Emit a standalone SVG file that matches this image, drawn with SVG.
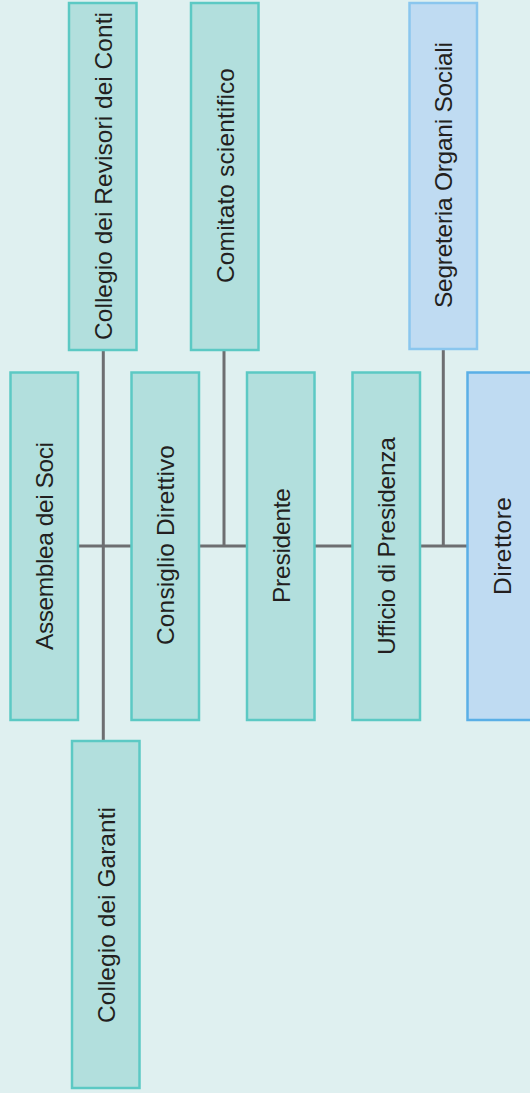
<svg xmlns="http://www.w3.org/2000/svg" width="530" height="1093" viewBox="0 0 530 1093">
<style>
.bg{fill:#dff0f0}
.t{fill:#b2dfdd;stroke:#5cc9c4;stroke-width:2.5}
.b{fill:#bfdbf2;stroke:#8ac6ee;stroke-width:2.5}
.d{fill:#bfdbf2;stroke:#5aafe6;stroke-width:2.5}
.c{stroke:#6d6e71;stroke-width:3;fill:none}
text{font-family:"Liberation Sans",Arial,sans-serif;font-size:24.5px;fill:#231f20;text-anchor:middle;dominant-baseline:central}
</style>
<rect class="bg" x="0" y="0" width="530" height="1093"/>
<g id="connectors">
<line class="c" x1="78" y1="546" x2="467" y2="546"/>
<line class="c" x1="103.3" y1="350" x2="103.3" y2="741"/>
<line class="c" x1="224" y1="350" x2="224" y2="546"/>
<line class="c" x1="443.3" y1="349" x2="443.3" y2="546"/>
</g>
<g id="revisori"><rect class="t" x="69" y="3" width="67.5" height="347"/><text transform="translate(103,176) rotate(-90)" textLength="328">Collegio dei Revisori dei Conti</text></g>
<g id="comitato"><rect class="t" x="191" y="3" width="67.5" height="347"/><text transform="translate(225,175.5) rotate(-90)" textLength="215">Comitato scientifico</text></g>
<g id="segreteria"><rect class="b" x="409.5" y="3" width="67.5" height="346"/><text transform="translate(443.5,175) rotate(-90)" textLength="266">Segreteria Organi Sociali</text></g>
<g id="assemblea"><rect class="t" x="10.5" y="372.5" width="67.5" height="347.5"/><text transform="translate(44.5,546) rotate(-90)" textLength="208">Assemblea dei Soci</text></g>
<g id="consiglio"><rect class="t" x="131.5" y="372.5" width="67.5" height="347.5"/><text transform="translate(165.5,545) rotate(-90)" textLength="200">Consiglio Direttivo</text></g>
<g id="presidente"><rect class="t" x="247" y="372.5" width="67.5" height="347.5"/><text transform="translate(281,545.5) rotate(-90)" textLength="115">Presidente</text></g>
<g id="ufficio"><rect class="t" x="352.5" y="372.5" width="67.5" height="347.5"/><text transform="translate(386.5,546) rotate(-90)" textLength="218">Ufficio di Presidenza</text></g>
<g id="direttore"><rect class="d" x="467.5" y="372.5" width="80" height="347.5"/><text transform="translate(502,546) rotate(-90)" textLength="98">Direttore</text></g>
<g id="garanti"><rect class="t" x="72" y="741" width="67.5" height="347"/><text transform="translate(106,915) rotate(-90)" textLength="216">Collegio dei Garanti</text></g>
</svg>
